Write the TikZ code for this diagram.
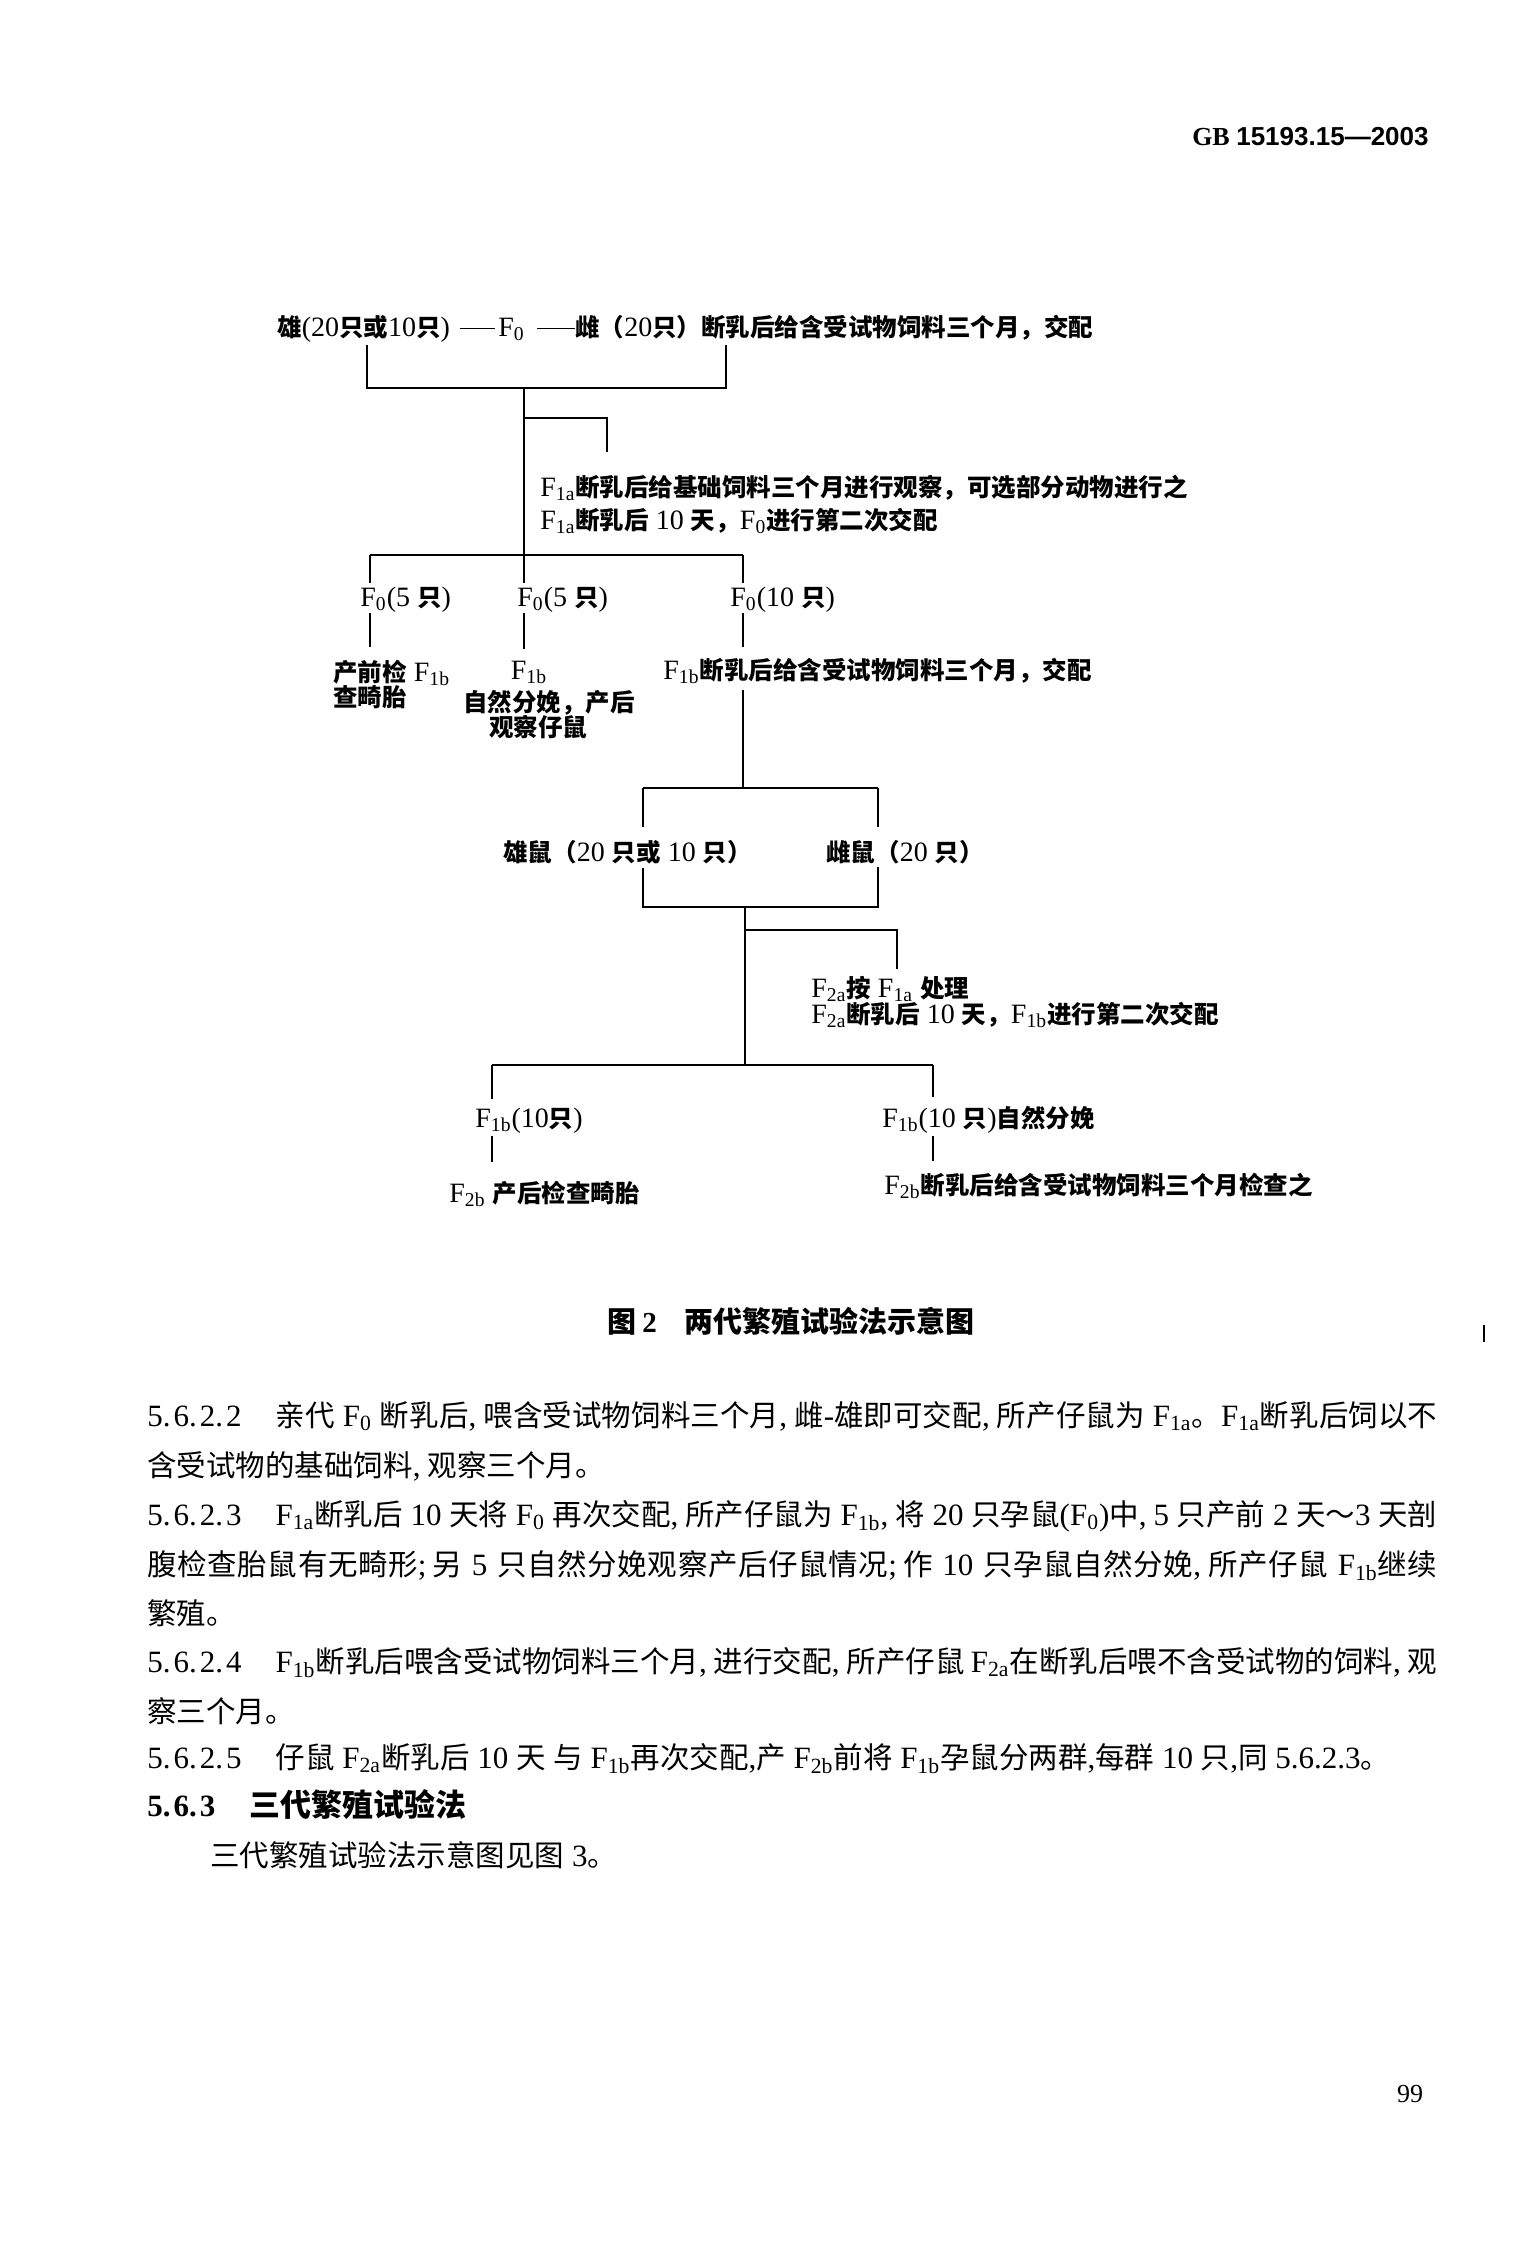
\documentclass[tikz,border=0pt]{standalone}
\usepackage{fontspec}
\setmainfont{Liberation Serif}
\newfontfamily\hdsans{Liberation Sans}
\newfontfamily\cjkfam{Noto Sans CJK SC}
\usetikzlibrary{calc}
% automatic switch between Latin and CJK fonts
\XeTeXinterchartokenstate=1
\ifdefined\newXeTeXintercharclass
  \newXeTeXintercharclass\mycjk
\else
  \chardef\mycjk=8
\fi
\newcount\cc
\cc="3000 \loop\XeTeXcharclass\cc=\mycjk \ifnum\cc<"303F \advance\cc by 1 \repeat
\cc="4E00 \loop\XeTeXcharclass\cc=\mycjk \ifnum\cc<"9FFF \advance\cc by 1 \repeat
\cc="FF00 \loop\XeTeXcharclass\cc=\mycjk \ifnum\cc<"FFEF \advance\cc by 1 \repeat
\def\cjkswitch{\cjkfam}
\def\latinswitch{\rmfamily}
\XeTeXinterchartoks 0 \mycjk = {\hskip0pt plus .6pt\cjkswitch}
\XeTeXinterchartoks 4095 \mycjk = {\cjkswitch}
\XeTeXinterchartoks \mycjk 0 = {\latinswitch\hskip0pt plus .6pt}
\XeTeXinterchartoks \mycjk 4095 = {\latinswitch}
\XeTeXinterchartoks \mycjk \mycjk = {\hskip0pt plus .6pt}
\newcommand\Fs[1]{F\textsubscript{#1}}
\newcommand\hc{\makebox[7.4pt][l]{,}}
\newcommand\hs{\makebox[7.4pt][l]{;}}
\tikzset{
  conn/.style={line width=0.9pt},
  diag/.style={inner sep=0pt, anchor=base west,
    font=\fontsize{14pt}{14pt}\selectfont\def\cjkswitch{\cjkfam\bfseries\fontsize{12.25pt}{14pt}\selectfont}\def\latinswitch{\rmfamily\mdseries\fontsize{14pt}{14pt}\selectfont}},
  diagc/.style={diag, anchor=base},
  para/.style={inner sep=0pt, anchor=base west,
    font=\fontsize{15.5pt}{17pt}\selectfont\def\cjkswitch{\cjkfam\fontsize{14.75pt}{17pt}\selectfont}\def\latinswitch{\rmfamily\fontsize{15.5pt}{17pt}\selectfont}},
}
\newcommand\fullline[1]{\makebox[645pt][s]{#1}}
\begin{document}
\begin{tikzpicture}[x=0.5pt,y=-0.5pt]
\fill[white] (0,0) rectangle (1536,2264);
% header
\node[inner sep=0pt, anchor=base east, font=\fontsize{13pt}{15pt}\selectfont\bfseries] (hdr) at (1429,146) {GB {\hdsans 15193.15—2003}};

% ---- parents
\node[diag] (male) at (277,336) {雄(20只或10只)};
\node[diag] (f0top) at (498,336) {\Fs{0}};
\node[diag] (female) at (575,336) {雌（20只）断乳后给含受试物饲料三个月，交配};
\coordinate (d1) at (male.east -| f0top.west);
\coordinate (d2) at (male.east -| f0top.east);
\draw[conn] ([xshift=-19pt]d1) -- ([xshift=-1.5pt]d1);
\draw[conn] ([xshift=6pt]d2) -- (male.east -| female.west);

% bracket 1
\coordinate (b1l) at (367,345);
\coordinate (b1r) at (726,345);
\coordinate (b1m) at (524,388);
\draw[conn] (b1l) |- (b1m) -| (b1r);
\coordinate (b2m) at (524,555);
\draw[conn] (b1m) -- (b2m);
\coordinate (sb1) at (524,418);
\coordinate (sb1e) at (607,452);
\draw[conn] (sb1) -| (sb1e);
\node[diag] (f1a1) at (540,496) {\Fs{1a}断乳后给基础饲料三个月进行观察，可选部分动物进行之};
\node[diag] (f1a2) at (540,529) {\Fs{1a}断乳后 10 天，\Fs{0}进行第二次交配};

% bracket 2
\coordinate (b2l) at (370,555);
\coordinate (b2r) at (743,555);
\draw[conn] (b2l) -- (b2r);
\node[diag] (g1) at (360,606) {\Fs{0}(5 只)};
\node[diag] (g2) at (517,606) {\Fs{0}(5 只)};
\node[diag] (g3) at (730,606) {\Fs{0}(10 只)};
\draw[conn, shorten >=1.5pt] (b2l) -- (b2l |- g1.north);
\draw[conn, shorten >=1.5pt] (b2m) -- (b2m |- g2.north);
\draw[conn, shorten >=1.5pt] (b2r) -- (b2r |- g3.north);

\node[diag] (t1a) at (333,681) {产前检 \Fs{1b}};
\node[diag] (t1b) at (333,706) {查畸胎};
\node[diagc] (t2a) at (529,679) {\Fs{1b}};
\node[diagc] (t2b) at (549,711) {自然分娩，产后};
\node[diagc] (t2c) at (538,736) {观察仔鼠};
\node[diag] (t3) at (663,679) {\Fs{1b}断乳后给含受试物饲料三个月，交配};
\draw[conn, shorten <=0.5pt, shorten >=6.3pt] (g1.south -| b2l) -- (t1a.north -| b2l);
\draw[conn, shorten <=0.5pt, shorten >=5.5pt] (g2.south -| b2m) -- (t2a.north -| b2m);
\draw[conn, shorten <=0.5pt, shorten >=5.3pt] (g3.south -| b2r) -- (t3.north -| b2r);

% bracket 3
\coordinate (b3m) at (743,788);
\coordinate (b3l) at (643,788);
\coordinate (b3r) at (878,788);
\draw[conn, shorten <=3pt] (t3.south -| b2r) -- (b3m);
\draw[conn] (b3l) -- (b3r);
\node[diag] (m2) at (503,861) {雄鼠（20 只或 10 只）};
\node[diag] (fm2) at (826,861) {雌鼠（20 只）};
\draw[conn, shorten >=6.3pt] (b3l) -- (b3l |- m2.north);
\draw[conn, shorten >=6.3pt] (b3r) -- (b3r |- fm2.north);
\coordinate (b3bl) at (643,907);
\coordinate (b3br) at (878,907);
\draw[conn, shorten <=1.75pt, shorten >=1.75pt] (m2.south -| b3l) -- (b3bl) -- (b3br) -- (fm2.south -| b3r);

\coordinate (b3bm) at (745,907);
\coordinate (b4m) at (745,1065);
\draw[conn] (b3bm) -- (b4m);
\coordinate (sb3) at (745,930);
\coordinate (sb3e) at (897,969);
\draw[conn] (sb3) -| (sb3e);
\node[diag] (f2a1) at (811,997) {\Fs{2a}按 \Fs{1a} 处理};
\node[diag] (f2a2) at (811,1023) {\Fs{2a}断乳后 10 天，\Fs{1b}进行第二次交配};

% bracket 4
\coordinate (b4l) at (492,1065);
\coordinate (b4r) at (933,1065);
\draw[conn] (b4l) -- (b4r);
\node[diag] (h1) at (475,1127) {\Fs{1b}(10只)};
\node[diag] (h2) at (882,1127) {\Fs{1b}(10 只)自然分娩};
\draw[conn, shorten >=4.3pt] (b4l) -- (b4l |- h1.north);
\draw[conn, shorten >=4.3pt] (b4r) -- (b4r |- h2.north);
\node[diag] (k1) at (449,1202) {\Fs{2b} 产后检查畸胎};
\node[diag] (k2) at (884,1194) {\Fs{2b}断乳后给含受试物饲料三个月检查之};
\draw[conn, shorten <=1.3pt, shorten >=9.3pt] (h1.south -| b4l) -- (k1.north -| b4l);
\draw[conn, shorten <=1.3pt, shorten >=5.8pt] (h2.south -| b4r) -- (k2.north -| b4r);

% caption
\node[inner sep=0pt, anchor=base west, font=\fontsize{14.5pt}{16pt}\selectfont\bfseries] (cap) at (607,1332) {图\hspace{3pt}2\hspace{14pt}两代繁殖试验法示意图};
\draw[line width=1.2pt] (1484,1325) -- (1484,1342);

% paragraphs
\node[para] (p1) at (147,1426) {\fullline{5.\kern1.5pt 6.\kern1.5pt 2.\kern1.5pt 2\hspace{17pt}亲代 \Fs{0} 断乳后\hc 喂含受试物饲料三个月\hc 雌-雄即可交配\hc 所产仔鼠为 \Fs{1a}。\Fs{1a}断乳后饲以不}};
\node[para] (p2) at (147,1476) {含受试物的基础饲料\hc 观察三个月。};
\node[para] (p3) at (147,1525) {\fullline{5.\kern1.5pt 6.\kern1.5pt 2.\kern1.5pt 3\hspace{17pt}\Fs{1a}断乳后 10 天将 \Fs{0} 再次交配\hc 所产仔鼠为 \Fs{1b}\hc 将 20 只孕鼠(\Fs{0})中\hc 5 只产前 2 天～3 天剖}};
\node[para] (p4) at (147,1575) {\fullline{腹检查胎鼠有无畸形\hs 另 5 只自然分娩观察产后仔鼠情况\hs 作 10 只孕鼠自然分娩\hc 所产仔鼠 \Fs{1b}继续}};
\node[para] (p5) at (147,1624) {繁殖。};
\node[para] (p6) at (147,1672) {\fullline{5.\kern1.5pt 6.\kern1.5pt 2.\kern1.5pt 4\hspace{17pt}\Fs{1b}断乳后喂含受试物饲料三个月\hc 进行交配\hc 所产仔鼠 \Fs{2a}在断乳后喂不含受试物的饲料\hc 观}};
\node[para] (p7) at (147,1722) {察三个月。};
\node[para] (p8) at (147,1768) {5.\kern1.5pt 6.\kern1.5pt 2.\kern1.5pt 5\hspace{17pt}仔鼠 \Fs{2a}断乳后 10 天 与 \Fs{1b}再次交配,产 \Fs{2b}前将 \Fs{1b}孕鼠分两群,每群 10 只,同 5.6.2.3。};
\node[para, font=\fontsize{15.5pt}{17pt}\selectfont\bfseries] (p9) at (147,1816) {5.\kern1.5pt 6.\kern1.5pt 3\hspace{17pt}三代繁殖试验法};
\node[para] (p10) at (210,1866) {三代繁殖试验法示意图见图 3。};

% page number
\node[inner sep=0pt, anchor=base, font=\fontsize{13pt}{15pt}\selectfont] (pg) at (1410,2102) {99};
\end{tikzpicture}
\end{document}
